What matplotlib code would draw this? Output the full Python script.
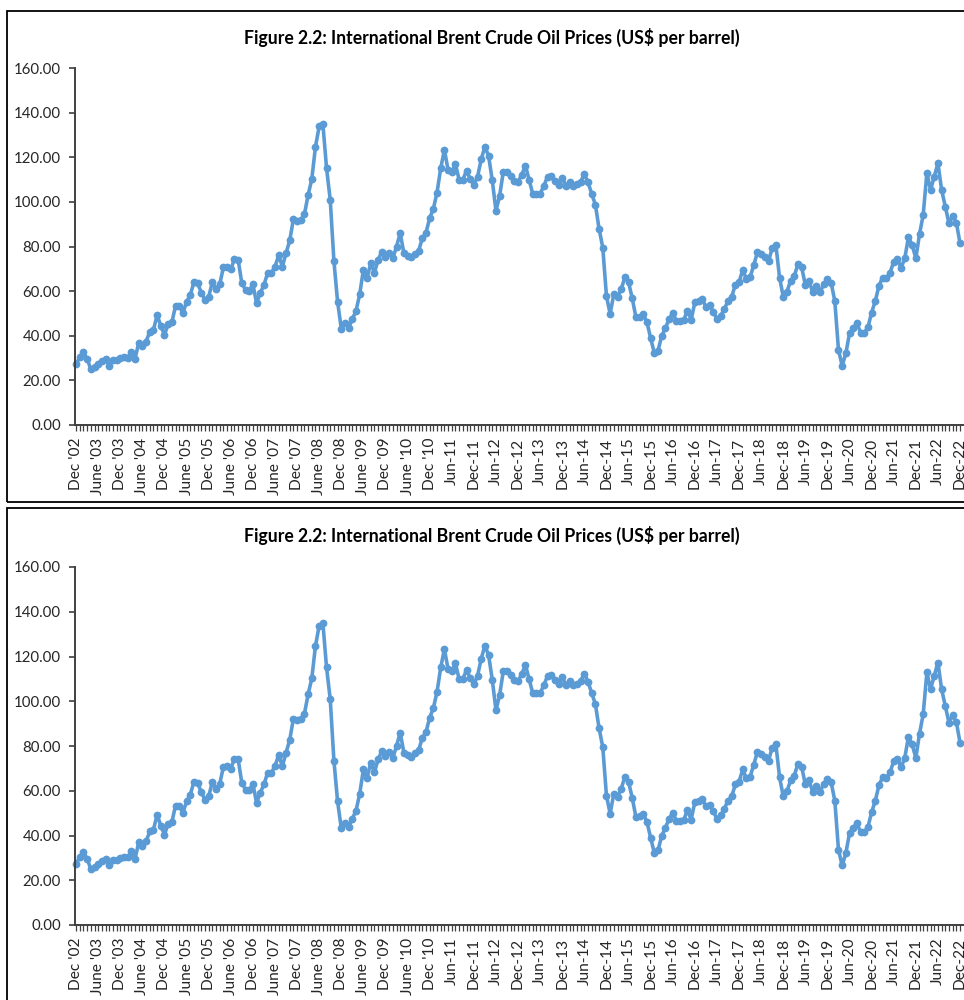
import matplotlib
matplotlib.use("Agg")
import matplotlib.pyplot as plt
from matplotlib.patches import Rectangle
import numpy as np

# Monthly Brent averages, Dec 2002 - Dec 2022 (US$ per barrel)
brent_2002 = [27.4]
brent_2003 = [30.3, 32.6, 29.6, 25.0, 25.9, 27.4, 28.7, 29.6, 26.6, 29.1, 29.1, 29.9]
brent_2004 = [30.6, 30.2, 32.9, 29.6, 36.9, 35.4, 37.4, 41.8, 42.6, 49.3, 44.4, 40.4]
brent_2005 = [45.3, 46.0, 53.4, 53.4, 50.1, 55.3, 58.3, 64.0, 63.5, 59.3, 56.0, 57.5]
brent_2006 = [64.0, 60.9, 63.1, 70.7, 71.0, 69.8, 74.4, 74.0, 63.5, 60.5, 60.2, 63.1]
brent_2007 = [54.6, 59.1, 62.8, 68.0, 68.0, 71.0, 76.0, 71.0, 77.0, 82.7, 92.2, 91.6]
brent_2008 = [91.9, 94.5, 103.1, 110.3, 124.8, 133.8, 135.0, 115.1, 100.9, 73.5, 55.2, 43.2]
brent_2009 = [45.6, 43.6, 47.5, 51.1, 58.6, 69.5, 65.8, 72.5, 68.3, 74.0, 77.7, 75.5]
brent_2010 = [77.3, 74.7, 80.0, 86.0, 77.0, 75.8, 75.2, 76.7, 78.0, 83.7, 86.2, 92.7]
brent_2011 = [96.9, 104.2, 115.1, 123.3, 114.3, 113.6, 116.9, 109.9, 109.9, 114.0, 110.3, 107.6]
brent_2012 = [111.3, 119.1, 124.8, 120.6, 109.6, 96.0, 102.8, 113.6, 113.6, 111.7, 109.4, 109.1]
brent_2013 = [112.1, 116.3, 109.9, 103.5, 103.5, 103.6, 107.2, 111.3, 111.8, 109.4, 107.6, 110.9]
brent_2014 = [107.2, 109.1, 107.3, 107.9, 109.1, 112.4, 108.7, 103.6, 98.7, 87.9, 79.5, 57.8]
brent_2015 = [49.8, 58.7, 57.3, 60.9, 66.2, 64.0, 56.8, 48.3, 48.6, 49.6, 46.1, 38.9]
brent_2016 = [32.2, 33.3, 39.9, 43.4, 47.5, 50.1, 46.6, 46.6, 47.1, 51.3, 47.1, 55.0]
brent_2017 = [55.6, 56.4, 53.0, 53.8, 50.8, 47.5, 49.0, 51.9, 55.6, 57.5, 62.8, 64.0]
brent_2018 = [69.5, 65.5, 66.2, 71.7, 77.4, 76.5, 75.2, 73.5, 79.2, 80.7, 66.1, 57.5]
brent_2019 = [59.8, 64.6, 66.8, 72.1, 70.7, 62.8, 64.6, 59.5, 62.3, 59.5, 63.2, 65.3]
brent_2020 = [63.8, 55.6, 33.6, 26.6, 32.1, 41.1, 43.4, 45.6, 41.4, 41.4, 43.8, 50.4]
brent_2021 = [55.6, 62.5, 66.1, 65.8, 68.3, 73.2, 74.4, 70.4, 74.7, 84.2, 80.7, 74.7]
brent_2022 = [85.5, 94.2, 112.9, 105.4, 111.3, 117.3, 105.4, 97.9, 90.4, 93.7, 90.7, 81.5]

prices = (brent_2002 + brent_2003 + brent_2004 + brent_2005 + brent_2006 + brent_2007
          + brent_2008 + brent_2009 + brent_2010 + brent_2011 + brent_2012 + brent_2013
          + brent_2014 + brent_2015 + brent_2016 + brent_2017 + brent_2018 + brent_2019
          + brent_2020 + brent_2021 + brent_2022)

# one label every six months
tick_labels = [
    "Dec '02", "June '03", "Dec '03", "June '04", "Dec '04", "June '05", "Dec '05",
    "June '06", "Dec '06", "June '07", "Dec '07", "June '08", "Dec '08", "June '09",
    "Dec '09", "June '10", "Dec '10", "Jun-11", "Dec-11", "Jun-12", "Dec-12", "Jun-13",
    "Dec-13", "Jun-14", "Dec-14", "Jun-15", "Dec-15", "Jun-16", "Dec-16", "Jun-17",
    "Dec-17", "Jun-18", "Dec-18", "Jun-19", "Dec-19", "Jun-20", "Dec-20", "Jun-21",
    "Dec-21", "Jun-22", "Dec-22",
]

title = "Figure 2.2: International Brent Crude Oil Prices (US$ per barrel)"
line_color = "#5B9BD5"
text_color = "#262626"
font = "Lato"

W, H = 964, 1000
fig = plt.figure(figsize=(W / 100, H / 100), dpi=100)


def draw_panel(box_top, box_bottom, ax_top, ax_bottom, title_y):
    # outer frame of the chart object
    fig.patches.append(Rectangle((7 / W, 1 - box_bottom / H), 1.1, (box_bottom - box_top) / H,
                                 transform=fig.transFigure, fill=False,
                                 edgecolor="black", linewidth=1.3))
    fig.text(492 / W, 1 - title_y / H, title, ha="center", va="center",
             fontsize=12.7, fontweight="bold", family=font, color="black")

    left = 75 / W
    width = 887.6 / W
    ax = fig.add_axes([left, 1 - ax_bottom / H, width, (ax_bottom - ax_top) / H])
    x = np.arange(len(prices))
    ax.plot(x, prices, color=line_color, linewidth=2.6, marker="o",
            markersize=5.6, markeredgewidth=0, clip_on=False)

    ax.set_xlim(-0.3, 240.7)
    ax.set_ylim(0, 160)
    ax.set_yticks(np.arange(0, 161, 20))
    ax.set_yticklabels([f"{v:.2f}" for v in np.arange(0, 161, 20)])
    ax.set_xticks(np.arange(0, len(prices), 6))
    ax.set_xticklabels(tick_labels, rotation=90)
    ax.set_xticks(np.arange(0, len(prices)), minor=True)

    for side in ("top", "right"):
        ax.spines[side].set_visible(False)
    for side in ("left", "bottom"):
        ax.spines[side].set_linewidth(1.4)
        ax.spines[side].set_color("#404040")

    ax.tick_params(axis="y", direction="out", length=4, width=1.2, color="#404040",
                   labelsize=10.8, labelcolor=text_color, pad=6)
    ax.tick_params(axis="x", which="both", direction="out", length=4, width=0.9,
                   color="#404040", labelsize=11.2, labelcolor=text_color, pad=5)
    for lab in ax.get_xticklabels() + ax.get_yticklabels():
        lab.set_family(font)
    ax.patch.set_alpha(0)


draw_panel(11, 502, 68, 425, 37)
draw_panel(508, 1010, 567, 925, 535)

fig.savefig("out.png", dpi=100, facecolor="white")
